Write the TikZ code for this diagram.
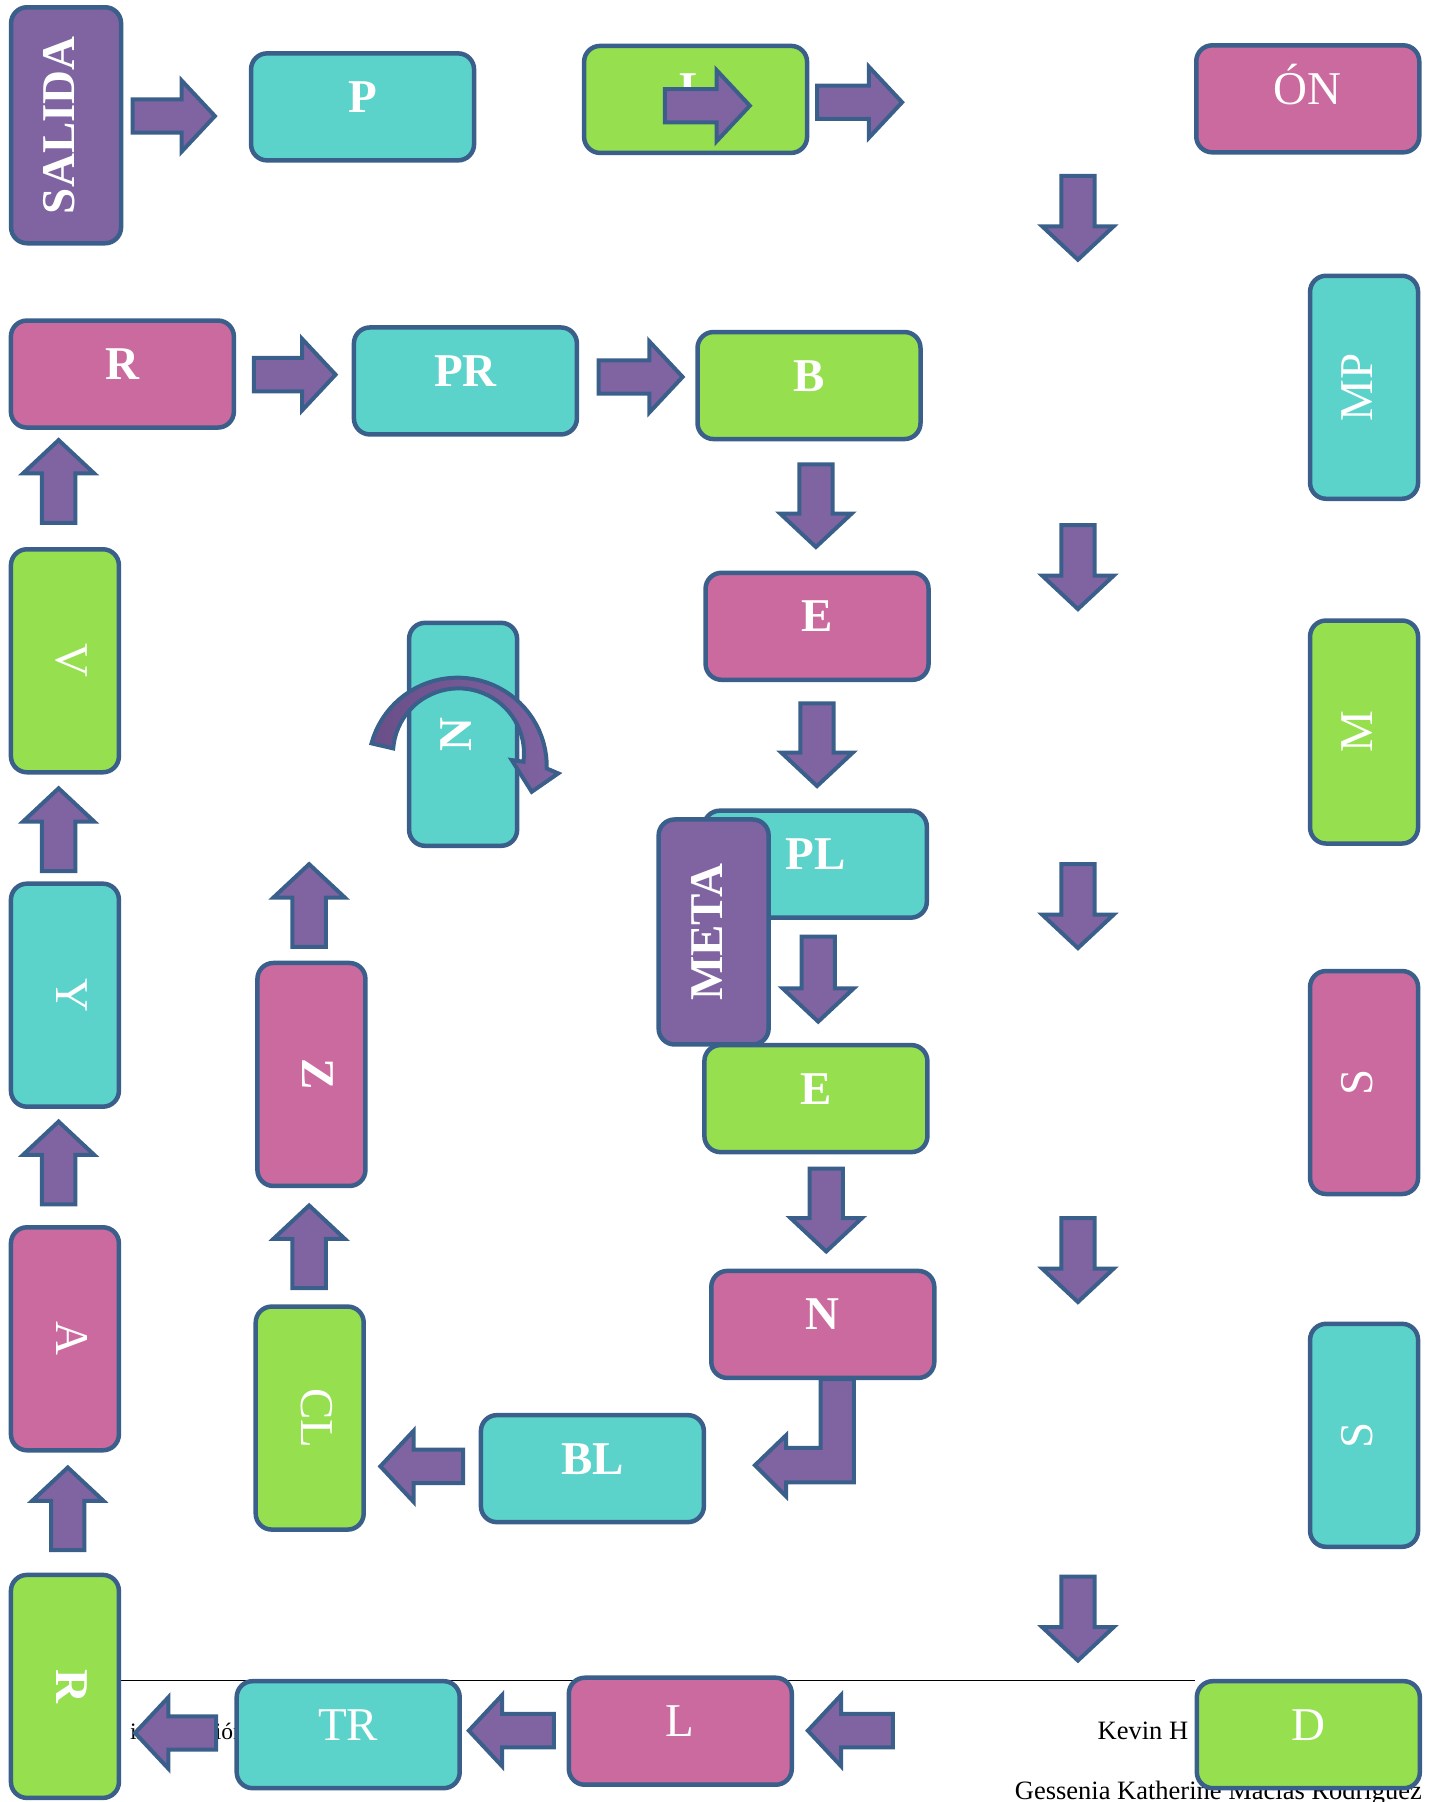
\documentclass[tikz,border=0pt]{standalone}
\usepackage{fontspec}
\setmainfont{Liberation Serif}
\definecolor{bord}{HTML}{3A5F8B}
\definecolor{purp}{HTML}{8064A2}
\definecolor{purpd}{HTML}{6A4E88}
\definecolor{cyanb}{HTML}{5BD3CB}
\definecolor{greenb}{HTML}{96E04F}
\definecolor{pinkb}{HTML}{CB6A9E}
\tikzset{
  box/.style={draw=bord, line width=4.5pt, rounded corners=16pt, inner sep=0pt,
    text=white, font=\fontsize{47}{50}\selectfont, text height=31pt},
  hb/.style={box, minimum width=223pt, minimum height=107pt, text depth=20pt},
  vbm/.style={box, minimum width=223pt, minimum height=108pt, text depth=14pt, rotate=-90},
  vbp/.style={box, minimum width=223pt, minimum height=108pt, text depth=14pt, rotate=90},
  arr/.style={draw=bord, fill=purp, line width=4pt, line join=miter},
  btxt/.style={inner sep=0pt, font=\fontsize{26.5}{30}\selectfont, text=black}
}
\newcommand{\blockarr}[4]{\begin{scope}[shift={(#1,#2)},rotate=#3]
  \draw[arr] (0,-14.5) -- ({#4-29},-14.5) -- ({#4-29},-31) -- (#4,0) -- ({#4-29},31) -- ({#4-29},14.5) -- (0,14.5) -- cycle;
\end{scope}}
\begin{document}
\begin{tikzpicture}[x=1.1492pt, y=-1.1492pt]
\useasboundingbox (0,0) rectangle (1247.8,1568.1);
% footer line and texts
\draw[line width=1pt, black] (105,1462) -- (1040,1462);
\node[btxt, anchor=base west, font=\fontsize{23.5}{28}\selectfont] (info) at (113,1514) {información};
\node[btxt, anchor=base west] (kev) at (955,1514) {Kevin H};
\node[btxt, anchor=base west] (gess) at (883,1566) {Gessenia Katherine Macias Rodriguez};

% top row
\node[box, fill=purp, minimum width=236pt, minimum height=110pt, text depth=14pt, rotate=90] (salida) at (57.5,109) {\bfseries SALIDA};
\blockarr{115.5}{101}{0}{71.5}
\node[hb, fill=cyanb] (p) at (315.5,93) {\bfseries P};
\node[hb, fill=greenb] (lg) at (605.3,86.5) {\bfseries L};
\blockarr{578.5}{92}{0}{74}
\blockarr{711}{89}{0}{74}
\node[hb, fill=pinkb] (on) at (1138,86) {ÓN};

% right column arrows
\blockarr{938}{153}{-90}{73}
\blockarr{938}{457}{-90}{73}
\blockarr{938}{752}{-90}{73}
\blockarr{938}{1060}{-90}{73}
\blockarr{938}{1372}{-90}{73}

% second row
\node[hb, fill=pinkb] (r1) at (106.5,325.5) {\bfseries R};
\blockarr{221}{326}{0}{71}
\node[hb, fill=cyanb] (pr) at (405,331.5) {\bfseries PR};
\blockarr{521}{328}{0}{73}
\node[hb, fill=greenb] (b) at (704,335.5) {\bfseries B};
\node[vbp, fill=cyanb] (mp) at (1187,337) {MP};

% middle column
\blockarr{710}{404}{-90}{72}
\node[hb, fill=pinkb] (e1) at (711,545) {\bfseries E};
\blockarr{711}{612}{-90}{72}
\node[hb, fill=cyanb] (pl) at (709.5,752) {\bfseries PL};
\node[box, fill=purp, minimum width=225pt, minimum height=110pt, text depth=14pt, rotate=90] (meta) at (621,811) {\bfseries META};
\blockarr{712}{815}{-90}{74}
\node[hb, fill=greenb] (e2) at (710,956) {\bfseries E};
\blockarr{719}{1017}{-90}{72}
\draw[arr] (714,1200) -- (743,1200) -- (743,1290) -- (684,1290) -- (684,1302) -- (657,1275) -- (684,1249) -- (684,1260) -- (714,1260) -- cycle;
\node[hb, fill=pinkb] (n1) at (716,1152.5) {\bfseries N};
\node[hb, fill=cyanb] (bl) at (515.5,1278) {\bfseries BL};
\blockarr{403}{1276}{180}{72}
\node[vbm, fill=greenb] (cl) at (269.5,1234) {CL};
\blockarr{269}{1121}{90}{72}
\node[vbm, fill=pinkb] (z) at (271,935) {\bfseries Z};
\blockarr{269}{824}{90}{72}
\node[vbp, fill=cyanb] (n2) at (403,639) {\bfseries N};
\draw[arr, left color=purpd, right color=purp]
  plot[domain=164.9:-1.3, samples=40] ({398.2+77.6*cos(\x)}, {667-77.3*sin(\x)})
  -- (485.8,673.0) -- (462.7,689.0) -- (445.3,661.4)
  -- plot[domain=-7.4:175.6, samples=40] ({399+57*cos(\x)}, {655.6-56.6*sin(\x)})
  -- cycle;

% left column
\blockarr{51}{455}{90}{72}
\node[vbm, fill=greenb] (v) at (56.5,575) {V};
\blockarr{51}{758}{90}{72}
\node[vbm, fill=cyanb] (y) at (56.5,866) {Y};
\blockarr{51}{1048}{90}{72}
\node[vbm, fill=pinkb] (a) at (56.5,1165) {A};
\blockarr{59}{1349}{90}{72}
\node[vbm, fill=greenb] (rg) at (56.5,1467.5) {\bfseries R};

% right column boxes
\node[vbp, fill=greenb] (m) at (1187,637) {M};
\node[vbp, fill=pinkb] (s1) at (1187,942) {S};
\node[vbp, fill=cyanb] (s2) at (1187,1249) {S};

% bottom row
\blockarr{188}{1508}{180}{70.5}
\node[hb, fill=cyanb] (tr) at (303,1509.5) {TR};
\blockarr{482}{1506}{180}{74}
\node[hb, fill=pinkb] (lp) at (592,1506.5) {L};
\blockarr{777}{1506}{180}{74}
\node[hb, fill=greenb] (d) at (1138.5,1509.5) {D};
\end{tikzpicture}
\end{document}
